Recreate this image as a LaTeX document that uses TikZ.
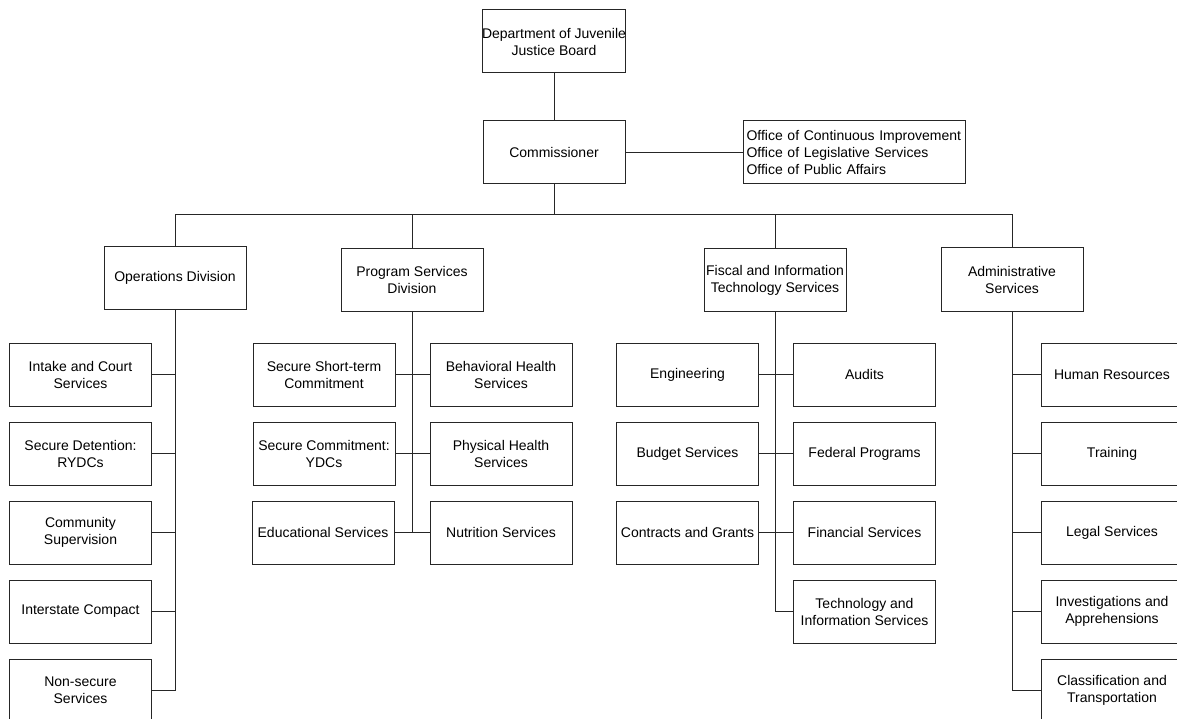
\documentclass[tikz,border=0pt]{standalone}
\usepackage{fontspec}
\setmainfont{Liberation Sans}
\begin{document}
\begin{tikzpicture}[x=1pt,y=-1pt,
  box/.style={draw=black!85,line width=1pt,minimum width=142pt,minimum height=63pt,inner sep=0pt,align=center,font=\fontsize{14}{17}\selectfont},
  conn/.style={draw=black!85,line width=1pt}]
\clip (0,0) rectangle (1177,719);
\fill[white] (0,0) rectangle (1177,719);
% top
\node[box] (board) at (554,41.5) {Department of Juvenile\\Justice Board};
\node[box] (comm) at (554,152.5) {Commissioner};
\node[draw=black!85,line width=1pt,minimum width=222pt,minimum height=63pt,inner sep=0pt,inner xsep=3pt,align=left,anchor=west,text width=216pt,font=\fontsize{14}{17}\selectfont] (off) at (743,152.5) {Office of Continuous Improvement\\Office of Legislative Services\\Office of Public Affairs};
% divisions
\node[box] (ops) at (175,278) {Operations Division};
\node[box] (prog) at (412,280) {Program Services\\Division};
\node[box] (fisc) at (775,280) {Fiscal and Information\\Technology Services};
\node[box] (adm) at (1012,279.5) {Administrative\\Services};
% operations children
\node[box] (intake) at (80.5,374.5) {Intake and Court\\Services};
\node[box] (detent) at (80.5,453.5) {Secure Detention:\\RYDCs};
\node[box] (commsup) at (80.5,532.5) {Community\\Supervision};
\node[box] (inter) at (80.5,611.5) {Interstate Compact};
\node[box] (nonsec) at (80.5,690.5) {Non-secure\\Services};
% program children
\node[box] (sst) at (324,374.5) {Secure Short-term\\Commitment};
\node[box] (scy) at (324,453.5) {Secure Commitment:\\YDCs};
\node[box] (edu) at (323,532.5) {Educational Services};
\node[box] (bhs) at (501,374.5) {Behavioral Health\\Services};
\node[box] (phs) at (501,453.5) {Physical Health\\Services};
\node[box] (nut) at (501,532.5) {Nutrition Services};
% fiscal children
\node[box] (eng) at (687.5,374.5) {Engineering};
\node[box] (bud) at (687.5,453.5) {Budget Services};
\node[box] (con) at (687.5,532.5) {Contracts and Grants};
\node[box] (aud) at (864.5,374.5) {Audits};
\node[box] (fed) at (864.5,453.5) {Federal Programs};
\node[box] (fin) at (864.5,532.5) {Financial Services};
\node[box] (tech) at (864.5,611.5) {Technology and\\Information Services};
% admin children
\node[box] (hr) at (1112,374.5) {Human Resources};
\node[box] (train) at (1112,453.5) {Training};
\node[box] (legal) at (1112,532.5) {Legal Services};
\node[box] (inv) at (1112,611.5) {Investigations and\\Apprehensions};
\node[box] (cls) at (1112,690.5) {Classification and\\Transportation};
% connectors
\coordinate (bus) at (554,215);
\draw[conn] (board.south) -- (comm.north);
\draw[conn] (comm.east) -- (off.west);
\draw[conn] (comm.south) -- (bus);
\draw[conn] (ops.north) |- (bus);
\draw[conn] (prog.north) |- (bus);
\draw[conn] (fisc.north) |- (bus);
\draw[conn] (adm.north) |- (bus);
% operations
\draw[conn] (ops.south) |- (nonsec.east);
\foreach \n in {intake,detent,commsup,inter} \draw[conn] (\n.east) -- (\n.east -| ops.south);
% program
\draw[conn] (prog.south) -- (prog.south |- edu.east);
\draw[conn] (sst.east) -- (bhs.west);
\draw[conn] (scy.east) -- (phs.west);
\draw[conn] (edu.east) -- (nut.west);
% fiscal
\draw[conn] (fisc.south) |- (tech.west);
\draw[conn] (eng.east) -- (aud.west);
\draw[conn] (bud.east) -- (fed.west);
\draw[conn] (con.east) -- (fin.west);
% admin
\draw[conn] (adm.south) |- (cls.west);
\foreach \n in {hr,train,legal,inv} \draw[conn] (\n.west) -- (\n.west -| adm.south);
\end{tikzpicture}
\end{document}
